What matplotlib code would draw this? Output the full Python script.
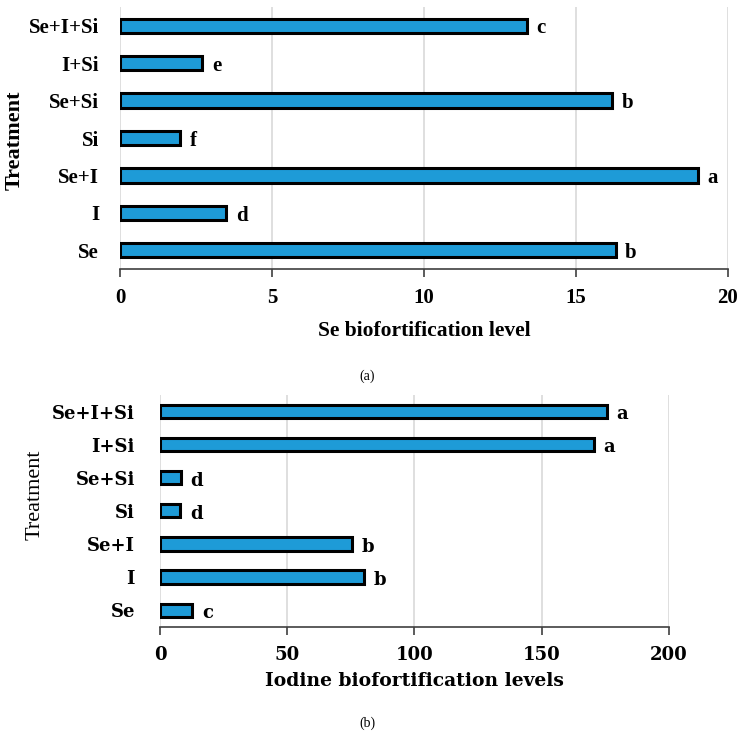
import matplotlib.pyplot as plt

BLUE = '#1E9BD7'
GRID = '#D9D9D9'
AXC = '#404040'

treatments = ['Se', 'I', 'Se+I', 'Si', 'Se+Si', 'I+Si', 'Se+I+Si']
se_level = [16.3, 3.5, 19.0, 1.97, 16.2, 2.7, 13.38]
se_letters = ['b', 'd', 'a', 'f', 'b', 'e', 'c']
iodine_level = [12.7, 80.2, 75.3, 7.9, 8.1, 170.5, 175.5]
iodine_letters = ['c', 'b', 'b', 'd', 'd', 'a', 'a']
se_ticks = [0, 5, 10, 15, 20]
iodine_ticks = [0, 50, 100, 150, 200]


def draw_panel(ax, vals, letters, ticks, xlabel, font, fsize, xfsize, lbl_pad, bar_h, xpad, labpad):
    ax.barh(treatments, vals, height=bar_h, color=BLUE, edgecolor='black', linewidth=2.2, zorder=3)
    ax.set_xlim(ticks[0], ticks[-1])
    ax.set_ylim(-0.5, len(treatments) - 0.5)
    ax.set_xticks(ticks)
    ax.grid(axis='x', color=GRID, lw=1.2, zorder=0)
    ax.grid(axis='y', visible=False)
    for s in ['top', 'right', 'left']:
        ax.spines[s].set_visible(False)
    ax.spines['bottom'].set_color(AXC)
    ax.spines['bottom'].set_linewidth(1.2)
    ax.tick_params(axis='x', length=6, width=1.2, color=AXC, pad=xpad)
    ax.tick_params(axis='y', length=0, pad=lbl_pad)
    for t in ax.get_xticklabels():
        t.set_fontfamily(font); t.set_fontsize(fsize); t.set_fontweight('bold')
    for t in ax.get_yticklabels():
        t.set_fontfamily(font); t.set_fontsize(fsize); t.set_fontweight('bold')
    for i, (v, l) in enumerate(zip(vals, letters)):
        ax.annotate(l, (v, i), xytext=(7, -2), textcoords='offset points', ha='left', va='center',
                    fontfamily=font, fontsize=fsize, fontweight='bold')
    ax.set_xlabel(xlabel, fontfamily=font, fontsize=xfsize, fontweight='bold', labelpad=labpad)


fig = plt.figure(figsize=(7.43, 7.36), dpi=100)

ax1 = fig.add_axes([0.1615, 0.6345, 0.8183, 0.356])
draw_panel(ax1, se_level, se_letters, se_ticks, 'Se biofortification level',
           'Liberation Serif', 15, 15.5, 15, 0.38, 8, 9)
fig.text(15 / 743, 1 - 140 / 736, 'Treatment', rotation=90, ha='center', va='center',
         fontfamily='Liberation Serif', fontsize=16, fontweight='bold')
fig.text(367 / 743, 1 - 376 / 736, '(a)', ha='center', va='center',
         fontfamily='Liberation Serif', fontsize=10)

ax2 = fig.add_axes([0.2153, 0.1485, 0.6851, 0.3148])
draw_panel(ax2, iodine_level, iodine_letters, iodine_ticks, 'Iodine biofortification levels',
           'DejaVu Serif', 13, 13.5, 18, 0.4, 8, 6)
fig.text(35 / 743, 1 - 495 / 736, 'Treatment', rotation=90, ha='center', va='center',
         fontfamily='Liberation Serif', fontsize=16)
fig.text(367 / 743, 1 - 723 / 736, '(b)', ha='center', va='center',
         fontfamily='Liberation Serif', fontsize=10)

fig.savefig('out.png', dpi=100, facecolor='white')
